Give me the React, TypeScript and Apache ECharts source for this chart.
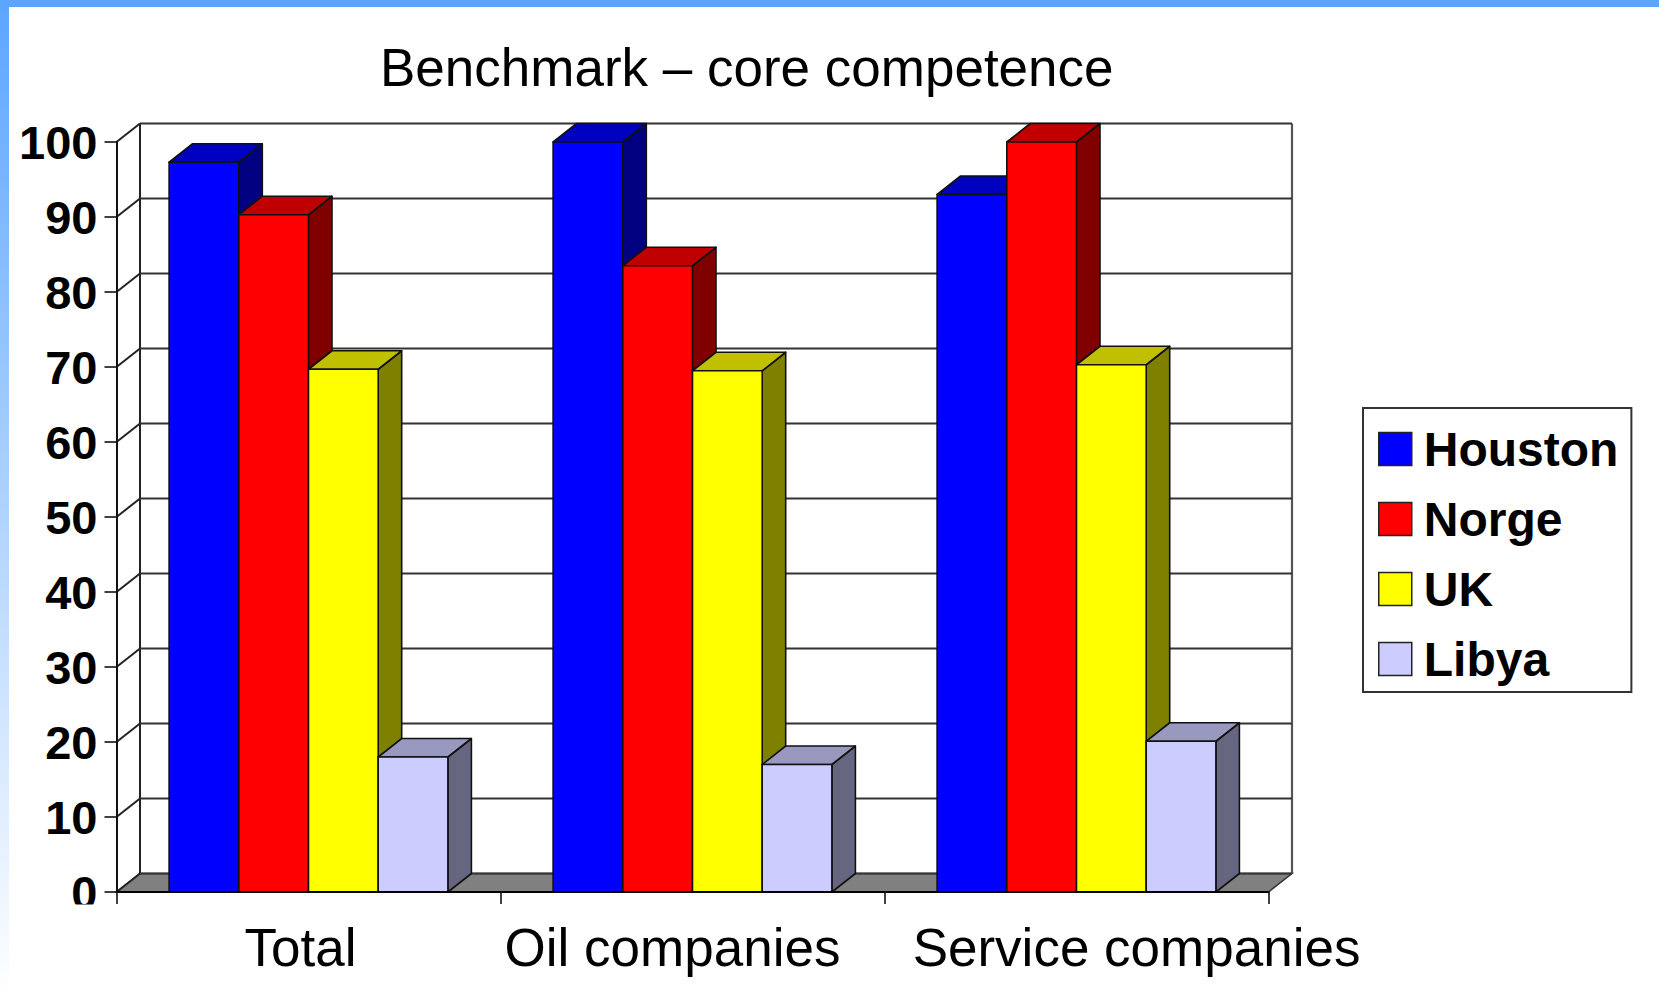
import React, { useEffect, useRef } from "react";
import * as echarts from "echarts";

const titleText = "Benchmark – core competence";
const categories = ["Total", "Oil companies", "Service companies"];
const houston = [97.3, 100, 93];
const norge = [90.3, 83.5, 100];
const uk = [69.7, 69.5, 70.3];
const libya = [18, 17, 20.1];
const yTicks = [0, 10, 20, 30, 40, 50, 60, 70, 80, 90, 100];
const seriesNames = ["Houston", "Norge", "UK", "Libya"];
const seriesValues = [houston, norge, uk, libya];
const faceColors = ["#0000ff", "#ff0000", "#ffff00", "#ccccff"];
const topColors = ["#0000c0", "#c00000", "#c0c000", "#9999c0"];
const sideColors = ["#000080", "#800000", "#808000", "#666680"];

const FONT = "Liberation Sans";
const DX = 23.5;
const DY = 18.5;
const BAR_FRACTION = 0.1815;
const INK = "#111";

function barSeries(index: number) {
  return {
    type: "custom",
    name: seriesNames[index],
    color: faceColors[index],
    itemStyle: { color: faceColors[index] },
    z: 3,
    clip: false,
    encode: { x: 0, y: 1 },
    data: seriesValues[index].map((v, i) => [i, v]),
    renderItem: (_params: any, api: any) => {
      const base = api.coord([api.value(0), 0]);
      const top = api.coord([api.value(0), api.value(1)]);
      const w = api.size([1, 0])[0] * BAR_FRACTION;
      const x0 = base[0] + (index - 2) * w;
      const x1 = x0 + w;
      const yB = base[1];
      const yT = top[1];
      const edge = { stroke: INK, lineWidth: 1.6, lineJoin: "round" };
      return {
        type: "group",
        children: [
          {
            type: "polygon",
            shape: { points: [[x1, yB], [x1 + DX, yB - DY], [x1 + DX, yT - DY], [x1, yT]] },
            style: { fill: sideColors[index], ...edge },
          },
          {
            type: "polygon",
            shape: { points: [[x0, yT], [x0 + DX, yT - DY], [x1 + DX, yT - DY], [x1, yT]] },
            style: { fill: topColors[index], ...edge },
          },
          {
            type: "rect",
            shape: { x: x0, y: yT, width: w, height: yB - yT },
            style: { fill: faceColors[index], ...edge },
          },
        ],
      };
    },
  };
}

const wallSeries = {
  type: "custom",
  name: "wall",
  silent: true,
  z: 1,
  clip: false,
  encode: { x: 0, y: 1 },
  data: yTicks.map((t) => [0, t]),
  renderItem: (params: any, api: any) => {
    const sys = params.coordSys;
    const y = api.coord([0, api.value(1)])[1];
    const left = sys.x;
    const right = sys.x + sys.width;
    const line = { stroke: "#222", lineWidth: 2 };
    const children: any[] = [];
    if (api.value(1) === 0) {
      children.push({
        type: "polygon",
        shape: { points: [[left, y], [left + DX, y - DY], [right + DX, y - DY], [right, y]] },
        style: { fill: "#808080", stroke: "#333", lineWidth: 1.5 },
      });
      children.push({
        type: "line",
        shape: { x1: left + DX, y1: y - DY, x2: left + DX, y2: sys.y - DY },
        style: line,
      });
      children.push({
        type: "line",
        shape: { x1: right + DX, y1: y - DY, x2: right + DX, y2: sys.y - DY },
        style: { stroke: "#555", lineWidth: 2.2 },
      });
    }
    children.push({
      type: "line",
      shape: { x1: left, y1: y, x2: left + DX, y2: y - DY },
      style: line,
    });
    children.push({
      type: "line",
      shape: { x1: left + DX, y1: y - DY, x2: right + DX, y2: y - DY },
      style: { stroke: "#333", lineWidth: 2 },
    });
    return { type: "group", children };
  },
};

export default function App() {
  const ref = useRef<HTMLDivElement>(null);
  useEffect(() => {
    document.body.style.margin = "0";
    const chart = echarts.init(ref.current!, undefined, { renderer: "svg" });
    chart.setOption({
      animation: false,
      backgroundColor: "#ffffff",
      title: {
        text: titleText,
        left: 380,
        top: 41,
        padding: 0,
        textStyle: { fontFamily: FONT, fontSize: 53, fontWeight: "normal", color: "#000" },
      },
      grid: { left: 116.5, top: 142, width: 1152, height: 750 },
      xAxis: {
        type: "category",
        data: categories,
        z: 4,
        axisLine: { show: true, lineStyle: { color: "#000", width: 2 } },
        axisTick: { show: true, length: 12, lineStyle: { color: "#111", width: 1.6 } },
        axisLabel: {
          show: true,
          interval: 0,
          margin: 29,
          color: "#000",
          fontFamily: FONT,
          fontSize: 53,
          formatter: (v: string) => `{c${categories.indexOf(v)}|${v}}`,
          rich: {
            c0: { fontFamily: FONT, fontSize: 53, color: "#000", padding: [0, 16, 0, 0] },
            c1: { fontFamily: FONT, fontSize: 53, color: "#000", padding: [0, 40, 0, 0] },
            c2: { fontFamily: FONT, fontSize: 53, color: "#000", padding: [0, 0, 0, 120] },
          },
        },
      },
      yAxis: {
        type: "value",
        min: 0,
        max: 100,
        interval: 10,
        z: 4,
        splitLine: { show: false },
        axisLine: { show: true, lineStyle: { color: "#111", width: 2 } },
        axisTick: { show: true, length: 12, lineStyle: { color: "#111", width: 1.6 } },
        axisLabel: {
          margin: 19,
          color: "#000",
          fontFamily: FONT,
          fontSize: 47,
          fontWeight: "bold",
        },
      },
      legend: {
        orient: "vertical",
        left: 1363,
        top: 408,
        padding: [17, 13, 9, 15],
        itemGap: 22,
        itemWidth: 33,
        itemHeight: 33,
        icon: "rect",
        borderColor: "#333",
        borderWidth: 2,
        backgroundColor: "#fff",
        selectedMode: false,
        textStyle: { fontFamily: FONT, fontSize: 48, fontWeight: "bold", color: "#000", padding: [0, 0, 0, 7] },
        data: seriesNames.map((name, i) => ({
          name,
          icon: "rect",
          itemStyle: { color: faceColors[i], borderColor: "#222", borderWidth: 1.5 },
        })),
      },
      graphic: [
        {
          type: "rect",
          z: 100,
          shape: { x: 0, y: 0, width: 1659, height: 7 },
          style: { fill: "#5ca5ff" },
        },
        {
          type: "rect",
          z: 100,
          shape: { x: 0, y: 0, width: 9, height: 1000 },
          style: {
            fill: new echarts.graphic.LinearGradient(0, 0, 0, 1, [
              { offset: 0, color: "#5ca5ff" },
              { offset: 1, color: "#ffffff" },
            ]),
          },
        },
        {
          type: "rect",
          z: 100,
          shape: { x: 40, y: 904.5, width: 64, height: 14 },
          style: { fill: "#ffffff" },
        },
      ],
      series: [wallSeries, barSeries(0), barSeries(1), barSeries(2), barSeries(3)],
    });
    return () => chart.dispose();
  }, []);
  return <div ref={ref} style={{ width: 1659, height: 1000 }} />;
}
